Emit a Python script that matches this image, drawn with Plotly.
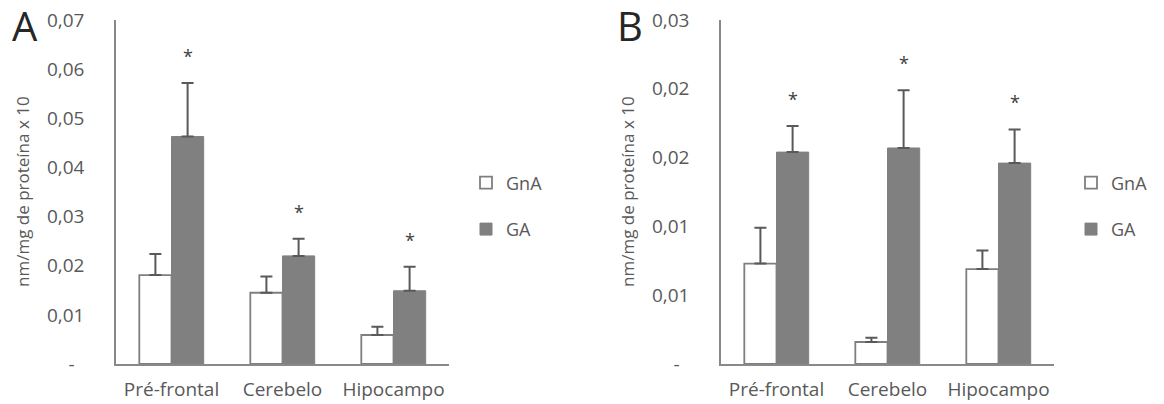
import plotly.graph_objects as go

categories = ["Pré-frontal", "Cerebelo", "Hipocampo"]
series_names = ["GnA", "GA"]

# Panel A values (nm/mg de proteína x 10)
a_gna = [0.0181, 0.0145, 0.0059]
a_gna_err = [0.0043, 0.0033, 0.0017]
a_ga = [0.0463, 0.0220, 0.0149]
a_ga_err = [0.0109, 0.0035, 0.0049]

# Panel B values
b_gna = [0.0073, 0.0016, 0.0069]
b_gna_err = [0.0026, 0.0003, 0.00135]
b_ga = [0.0154, 0.0157, 0.0146]
b_ga_err = [0.0019, 0.0042, 0.00245]

a_yticks = [0, 0.01, 0.02, 0.03, 0.04, 0.05, 0.06, 0.07]
a_yticklabels = ["-\u00a0\u00a0", "0,01", "0,02", "0,03", "0,04", "0,05", "0,06", "0,07"]
b_yticks = [0, 0.005, 0.01, 0.015, 0.02, 0.025]
b_yticklabels = ["-\u00a0\u00a0", "0,01", "0,01", "0,02", "0,02", "0,03"]

FONT = "Open Sans"
TXT = "#595959"
AXC = "#898989"
GA_COLOR = "#808080"
ERR_C = "#595959"
BAR_W = 0.29
xpos = list(range(len(categories)))

# page has an 8px body margin; figure sized to fill the rest of the window
OFF = 8
W, H = 1164 - OFF, 404 - OFF


def px(x):
    return (x - OFF) / W


def py(y):
    return 1 - (y - OFF) / H


fig = go.Figure()


def add_panel(gna, gna_err, ga, ga_err, xa, ya, leg):
    fig.add_trace(go.Bar(
        x=xpos, y=gna, name=series_names[0], width=BAR_W, offset=-BAR_W,
        marker=dict(color="white", line=dict(color="#7f7f7f", width=1.8)),
        error_y=dict(type="data", array=gna_err, arrayminus=[0] * len(gna), symmetric=False,
                     color=ERR_C, thickness=2, width=6),
        xaxis=xa, yaxis=ya, legend=leg, legendgroup=leg + "gna", hoverinfo="skip"))
    fig.add_trace(go.Bar(
        x=xpos, y=ga, name=series_names[1], width=BAR_W, offset=0,
        marker=dict(color=GA_COLOR, line=dict(color=GA_COLOR, width=1)),
        error_y=dict(type="data", array=ga_err, arrayminus=[0] * len(ga), symmetric=False,
                     color=ERR_C, thickness=2, width=6),
        xaxis=xa, yaxis=ya, legend=leg, legendgroup=leg + "ga", hoverinfo="skip"))
    for i in xpos:
        fig.add_annotation(x=i + BAR_W / 2, y=ga[i] + ga_err[i], xref=xa, yref=ya,
                           text="*", showarrow=False, yanchor="middle", yshift=27,
                           font=dict(family=FONT, size=18, color="#404040"))


add_panel(a_gna, a_gna_err, a_ga, a_ga_err, "x", "y", "legend")
add_panel(b_gna, b_gna_err, b_ga, b_ga_err, "x2", "y2", "legend2")

ydom = [py(364), py(20)]
xcommon = dict(range=[-0.5, 2.5], tickvals=xpos, ticktext=categories, showline=True,
               linecolor=AXC, linewidth=1.5, ticks="", showgrid=False, zeroline=False,
               tickfont=dict(family=FONT, size=19, color=TXT), ticklabelstandoff=7,
               ticklabeloverflow="allow", fixedrange=True, automargin=False)
ycommon = dict(showline=True, linecolor=AXC, linewidth=1.5, ticks="", showgrid=False,
               zeroline=False, tickfont=dict(family=FONT, size=19, color=TXT),
               ticklabelstandoff=26, ticklabeloverflow="allow", domain=ydom,
               fixedrange=True, automargin=False)

legcommon = dict(xanchor="left", yanchor="middle", traceorder="grouped",
                 tracegroupgap=20, font=dict(family=FONT, size=18, color=TXT),
                 bgcolor="rgba(0,0,0,0)")

fig.update_layout(
    template="none",
    width=W, height=H, margin=dict(l=0, r=0, t=0, b=0, pad=0, autoexpand=False),
    paper_bgcolor="white", plot_bgcolor="white",
    font=dict(family=FONT, color=TXT),
    barmode="overlay", showlegend=True,
    xaxis=dict(domain=[px(116), px(449)], anchor="y", **xcommon),
    yaxis=dict(range=[0, 0.07], tickvals=a_yticks, ticktext=a_yticklabels, anchor="x", **ycommon),
    xaxis2=dict(domain=[px(721), px(1054)], anchor="y2", **xcommon),
    yaxis2=dict(range=[0, 0.025], tickvals=b_yticks, ticktext=b_yticklabels, anchor="x2", **ycommon),
    legend=dict(x=px(466), y=py(206), **legcommon),
    legend2=dict(x=px(1071), y=py(206), **legcommon),
)

ytitle = "nm/mg de proteína x 10"
for xt in (22, 627):
    fig.add_annotation(x=px(xt), y=py(192), xref="paper", yref="paper", text=ytitle,
                       textangle=-90, showarrow=False, xanchor="center", yanchor="middle",
                       font=dict(family=FONT, size=17, color=TXT))
for letter, xl in (("A", 25), ("B", 630)):
    fig.add_annotation(x=px(xl), y=py(25), xref="paper", yref="paper", text=letter,
                       showarrow=False, xanchor="center", yanchor="middle", height=34,
                       valign="middle",
                       font=dict(family=FONT, size=40, color="#262626"))

fig.write_html("out.html")
